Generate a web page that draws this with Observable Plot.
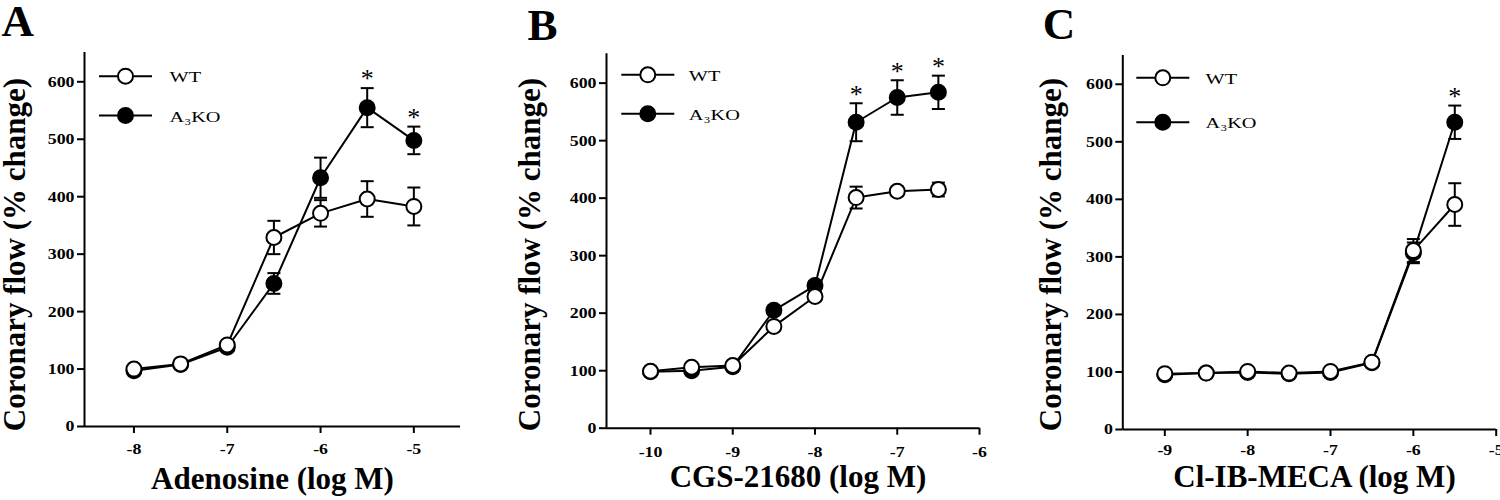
<!DOCTYPE html>
<html><head><meta charset="utf-8">
<script src="https://cdn.jsdelivr.net/npm/d3@7"></script>
<script src="https://cdn.jsdelivr.net/npm/@observablehq/plot@0.6"></script>
<style>
html,body{margin:0;padding:0;background:#fff;}
#fig{display:flex;width:1500px;height:500px;overflow:hidden;}
#fig > svg{flex:none;}
g[aria-label="x-axis tick"], g[aria-label="y-axis tick"], .tick line {stroke-width:2px;}
</style></head><body><div id="fig"></div>
<script>
// ---------- data ----------
const seriesLabels = ["WT", "A₃KO"];
const yTicks = [0, 100, 200, 300, 400, 500, 600];
const yAxisLabel = "Coronary flow (% change)";

// Panel A: Adenosine
const adenosineLogM  = [-8, -7.5, -7, -6.5, -6, -5.5, -5];
const adenosineWT    = [100, 109, 142, 329, 371, 396, 383];
const adenosineWTsem = [4, 4, 6, 29, 23, 31, 33];
const adenosineKO    = [97, 108, 138, 249, 433, 555, 498];
const adenosineKOsem = [4, 4, 6, 18, 35, 34, 24];
const adenosineStars = [-5.5, -5];
const adenosineTicks = [-8, -7, -6, -5];

// Panel B: CGS-21680
const cgsLogM  = [-10, -9.5, -9, -8.5, -8, -7.5, -7, -6.5];
const cgsWT    = [99, 106, 109, 177, 229, 401, 412, 415];
const cgsWTsem = [3, 4, 5, 8, 8, 19, 8, 12];
const cgsKO    = [98, 100, 107, 205, 248, 532, 575, 584];
const cgsKOsem = [3, 4, 5, 8, 8, 33, 30, 29];
const cgsStars = [-7.5, -7, -6.5];
const cgsTicks = [-10, -9, -8, -7, -6];

// Panel C: Cl-IB-MECA
const clLogM  = [-9, -8.5, -8, -7.5, -7, -6.5, -6, -5.5];
const clWT    = [97, 98, 101, 98, 101, 117, 311, 391];
const clWTsem = [3, 3, 3, 3, 3, 5, 20, 37];
const clKO    = [95, 98, 99, 97, 99, 116, 307, 534];
const clKOsem = [3, 3, 3, 3, 3, 5, 18, 29];
const clStars = [-5.5];
const clTicks = [-9, -8, -7, -6, -5];

// ---------- layout ----------
const panels = [
  {letter: "A", xLabel: "Adenosine (log M)", x: adenosineLogM, wt: adenosineWT, wtSem: adenosineWTsem,
   ko: adenosineKO, koSem: adenosineKOsem, stars: adenosineStars, xTicks: adenosineTicks,
   xDomain: [-8.53, -4.5], yMax: 651, m: {l: 84, r: 40, t: 52, b: 74}, tickPadX: 9,
   letterD: [-83, -48], yLabelDx: -69, xLabelDx: 0, xLabelDy: 40,
   legend: {dx: 41, dy: 23.7, gap: 39.3, textDx: 44}},
  {letter: "B", xLabel: "CGS-21680 (log M)", x: cgsLogM, wt: cgsWT, wtSem: cgsWTsem,
   ko: cgsKO, koSem: cgsKOsem, stars: cgsStars, xTicks: cgsTicks,
   xDomain: [-10.535, -6], yMax: 651, m: {l: 106, r: 21, t: 53.3, b: 72.3}, tickPadX: 11,
   letterD: [-79, -46], yLabelDx: -76, xLabelDx: 5, xLabelDy: 37,
   legend: {dx: 41.3, dy: 21, gap: 39, textDx: 41}},
  {letter: "C", xLabel: "Cl-IB-MECA (log M)", x: clLogM, wt: clWT, wtSem: clWTsem,
   ko: clKO, koSem: clKOsem, stars: clStars, xTicks: clTicks,
   xDomain: [-9.507, -5], yMax: 650, m: {l: 122.3, r: 4.3, t: 55, b: 71}, tickPadX: 7.5,
   letterD: [-80, -48], yLabelDx: -72, xLabelDx: 5, xLabelDy: 35.5,
   legend: {dx: 40, dy: 22.3, gap: 44.4, textDx: 42.7}}
];

const FONT = "'Liberation Serif', 'Times New Roman', serif";
const capSymbol = {draw(ctx) { ctx.moveTo(-6.5, 0); ctx.lineTo(6.5, 0); }};
const legendSymbol = {draw(ctx, size) {
  const r = Math.sqrt(size / Math.PI);
  ctx.moveTo(-26.5, 0); ctx.lineTo(-r, 0);
  ctx.moveTo(r, 0); ctx.lineTo(26.5, 0);
  ctx.moveTo(r, 0); ctx.arc(0, 0, r, 0, 2 * Math.PI);
}};

function stretch(t, s) {
  const tr = t.getAttribute("transform") || "";
  const x = +(t.getAttribute("x") || 0);
  t.setAttribute("transform", `${tr} translate(${x},0) scale(${s},1) translate(${-x},0)`);
}

const fig = document.getElementById("fig");
for (const p of panels) {
  const rows = (ys, ss, s) => p.x.map((x, i) => ({x, y: ys[i], sem: ss[i], series: s}));
  const wt = rows(p.wt, p.wtSem, seriesLabels[0]);
  const ko = rows(p.ko, p.koSem, seriesLabels[1]);
  const starRows = p.stars.map(x => { const i = p.x.indexOf(x); return {x, y: p.ko[i] + p.koSem[i]}; });
  const seriesMarks = (data, fill) => [
    Plot.line(data, {x: "x", y: "y", stroke: "black", strokeWidth: 2}),
    Plot.ruleX(data, {x: "x", y1: d => d.y - d.sem, y2: d => d.y + d.sem, stroke: "black", strokeWidth: 2}),
    Plot.dot(data, {x: "x", y: d => d.y + d.sem, symbol: capSymbol, r: 1, fill: "none", stroke: "black", strokeWidth: 2}),
    Plot.dot(data, {x: "x", y: d => d.y - d.sem, symbol: capSymbol, r: 1, fill: "none", stroke: "black", strokeWidth: 2}),
    Plot.dot(data, {x: "x", y: "y", r: 7.5, fill, stroke: "black", strokeWidth: 2})
  ];
  const legendMarks = seriesLabels.flatMap((s, i) => [
    Plot.dot([s], {frameAnchor: "top-left", dx: p.legend.dx, dy: p.legend.dy + i * p.legend.gap,
      symbol: legendSymbol, r: 7.5, fill: i ? "black" : "white", stroke: "black", strokeWidth: 2}),
    Plot.text([s], {frameAnchor: "top-left", dx: p.legend.dx + p.legend.textDx, dy: p.legend.dy + i * p.legend.gap + 1.5,
      text: d => d, textAnchor: "start", lineAnchor: "middle", fontSize: 14.5, fontWeight: "normal", fontFamily: FONT})
  ]);
  const W = 500, H = 500;
  const frameMidY = (p.m.t + (H - p.m.b)) / 2;
  const svg = Plot.plot({
    width: W, height: H,
    marginLeft: p.m.l, marginRight: p.m.r, marginTop: p.m.t, marginBottom: p.m.b,
    style: {fontFamily: FONT, fontWeight: "bold", fontSize: "15.5px", color: "black", background: "white", overflow: "visible"},
    x: {domain: p.xDomain, ticks: p.xTicks, tickSize: 7, tickPadding: p.tickPadX, tickFormat: d => String(d), label: null},
    y: {domain: [0, p.yMax], ticks: yTicks, tickSize: 7, tickPadding: 3, tickFormat: d => String(d), label: null},
    marks: [
      Plot.ruleY([0], {stroke: "black", strokeWidth: 2}),
      Plot.ruleX([p.xDomain[0]], {stroke: "black", strokeWidth: 2}),
      ...seriesMarks(ko, "black"),
      ...seriesMarks(wt, "white"),
      Plot.text(starRows, {x: "x", y: "y", text: () => "*", dy: -9, lineAnchor: "middle", fontSize: 26, fontWeight: "normal", fontFamily: FONT}),
      ...legendMarks,
      Plot.text([p.letter], {frameAnchor: "top-left", text: d => d, dx: p.letterD[0], dy: p.letterD[1], textAnchor: "start", lineAnchor: "top", fontSize: 45, fontWeight: "bold", fontFamily: FONT}),
      Plot.text([p.xLabel], {frameAnchor: "bottom", text: d => d, dx: p.xLabelDx, dy: p.xLabelDy, textAnchor: "middle", lineAnchor: "top", fontSize: 31, fontWeight: "bold", fontFamily: FONT}),
      Plot.text([yAxisLabel], {frameAnchor: "left", text: d => d, rotate: -90, dx: p.yLabelDx, dy: 254 - frameMidY, textAnchor: "middle", lineAnchor: "middle", fontSize: 31, fontWeight: "bold", fontFamily: FONT})
    ]
  });
  fig.appendChild(svg);
  svg.querySelectorAll('g[aria-label$="tick label"] text, .tick text').forEach(t => stretch(t, 1.15));
  svg.querySelectorAll('text').forEach(t => { if (seriesLabels.includes(t.textContent)) stretch(t, 1.4); });
}
</script></body></html>
